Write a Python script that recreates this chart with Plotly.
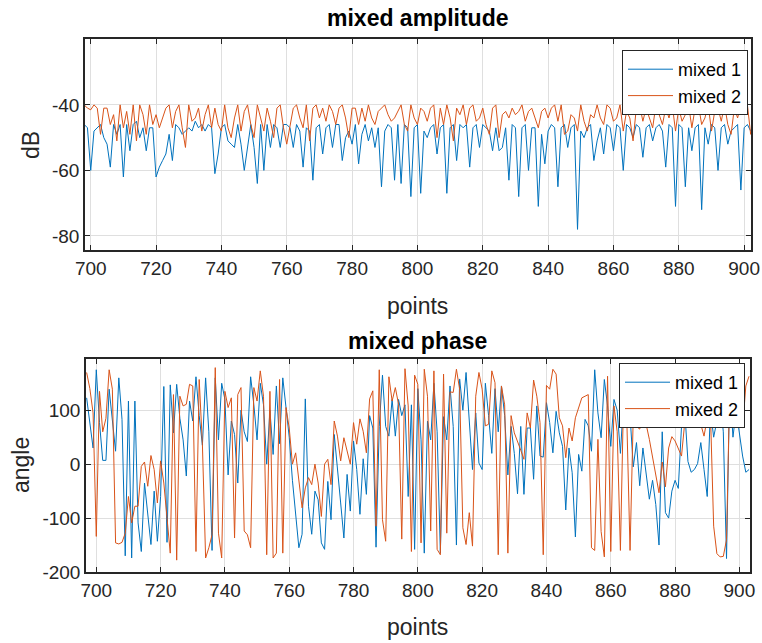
import plotly.graph_objects as go

points = list(range(697, 904))

amp_mixed1 = [
    -46, -46, -47, -60, -48, -47, -46, -50, -52, -59, -46, -49, -46, -62, -46, -54, -46, -45, -50, -47,
    -54, -47, -47, -62, -59, -57, -55, -49, -57, -46, -47, -49, -48, -47, -48, -45, -47, -46, -48, -46,
    -47, -61, -55, -47, -46, -51, -52, -53, -46, -52, -60, -53, -46, -53, -64, -46, -60, -46, -53, -46,
    -47, -53, -46, -46, -47, -53, -46, -48, -59, -47, -48, -63, -47, -46, -55, -47, -46, -53, -46, -46,
    -57, -50, -48, -52, -46, -58, -49, -46, -51, -47, -53, -47, -65, -48, -46, -47, -63, -46, -64, -46,
    -47, -68, -47, -46, -67, -48, -50, -47, -46, -55, -47, -46, -67, -47, -46, -57, -46, -47, -46, -59,
    -47, -46, -53, -46, -47, -48, -54, -47, -54, -53, -47, -63, -46, -47, -68, -47, -46, -60, -47, -47,
    -71, -49, -58, -48, -46, -47, -65, -47, -46, -53, -47, -46, -78, -48, -50, -47, -46, -57, -51, -47,
    -55, -46, -47, -54, -46, -47, -60, -46, -47, -50, -46, -47, -56, -47, -46, -51, -47, -46, -48, -59,
    -46, -47, -71, -46, -47, -65, -47, -54, -47, -46, -72, -47, -52, -46, -47, -60, -47, -46, -52, -48,
    -47, -46, -66, -47, -46, -48, -47,
]

amp_mixed2 = [
    -41, -40, -41, -41.5, -40, -41, -49, -41, -41, -46, -43, -51, -40, -47, -42, -49, -40, -51, -40, -43,
    -49, -40, -46, -43, -47, -44, -41, -40, -47, -42, -40, -47, -53, -40, -45, -44, -41, -48, -43, -40,
    -47, -41, -46, -48, -40, -47, -50, -44, -40, -48, -42, -40, -46, -50, -40, -44, -48, -41, -45, -50,
    -41, -40, -47, -52, -46, -41, -40, -44, -47, -40, -51, -41, -40, -44, -41, -45, -40, -42, -46, -41,
    -40, -44, -50, -41, -41, -46, -41, -45, -40, -44, -46, -42, -41, -40, -43, -45, -44, -42, -40, -46,
    -48, -40, -44, -46, -41, -42, -45, -41, -40, -50, -41, -46, -40, -44, -51, -41, -43, -40, -46, -41,
    -40, -45, -44, -41, -46, -49, -41, -40, -50, -43, -42, -44, -41, -43, -42, -40, -45, -42, -41, -44,
    -47, -42, -41, -44, -41, -40, -45, -40, -49, -48, -43, -44, -48, -40, -45, -48, -43, -44, -40, -44,
    -46, -40, -41, -45, -44, -40, -48, -42, -44, -51, -41, -40, -45, -41, -44, -47, -40, -43, -46, -41,
    -44, -40, -48, -41, -45, -43, -40, -47, -41, -40, -46, -44, -40, -48, -42, -41, -45, -40, -46, -49,
    -41, -44, -40, -41, -40, -49, -44,
]

phase_mixed1 = [
    123, 77, 30, 175, 77, 7, 7, 139, 77, 24, 160, 83, -170, 117, -174, 117, -109, -162, -35, -90,
    -149, -50, -143, -60, 144, -145, 147, 58, 148, 85, 45, -22, 117, 80, 162, 90, 35, 160, 60, -160,
    160, 45, 150, 120, -20, 80, 55, -35, 100, 60, 42, 162, 110, 45, 150, 110, 0, 100, 18, 145,
    38, 160, 100, 50, -30, -95, -155, -130, 121, -78, -130, -50, -66, -146, -158, -32, -103, 55, -4, -72,
    -137, -19, -87, 43, -10, -93, 10, -56, 90, 67, -154, 70, 165, 70, 52, 120, 52, 120, 90, 110,
    -60, 110, -158, 140, 45, -165, 80, 45, 150, 60, -165, 88, 45, 145, 70, -150, 158, 100, 170, 80,
    -10, 95, 2, -10, 150, 90, 20, 140, 60, 145, 90, -20, 70, 20, -55, 70, -56, 67, 67, -28,
    108, 15, 13, 114, 77, 21, 98, 58, 33, -85, 30, -16, -135, 18, -13, 83, 71, 24, 175, 95,
    49, 157, 108, 33, 120, 100, 20, 120, 75, 90, -5, 40, -40, 30, -20, -65, -30, -75, -150, 60,
    -90, -100, -50, -30, -45, 70, 100, 5, -15, -10, 1, 40, -10, -60, 100, 50, 80, 120, 60, -175,
    150, 50, 100, 60, 15, -15, -10,
]

phase_mixed2 = [
    170, 140, 95, -134, 135, 60, 85, 175, 139, -146, -148, -145, -128, -60, -109, -78, -78, -4, 4, -41,
    16, -10, -72, 6, -35, -103, -165, 129, -178, 126, 108, 111, 148, 145, -162, 157, 37, -174, -155, -131,
    179, -128, -174, 135, 105, 123, -137, 129, 142, -124, -131, -155, 142, 117, 173, 126, -168, 135, -174, -165,
    157, -165, 105, 67, 0, 21, -35, -81, -44, -25, -38, 0, -35, -97, 0, 9, -38, 80, 52, 6,
    49, 24, 0, 77, 37, 84, 61, 21, 121, 136, -115, 175, -103, -143, 162, 117, 142, 111, -139, 177,
    108, -162, 165, 148, -146, 176, 126, -124, 173, -158, -168, 167, -128, 134, 133, 176, 139, -118, -149, -90,
    -152, 126, 170, 139, 71, 74, 173, 151, -168, 145, 110, -165, 90, 58, 43, 26, 9, 95, 67, 156,
    126, 77, -168, 146, 139, 176, 167, 86, 71, 12, 67, 43, 86, 105, 123, 126, 129, -155, -160, 46,
    -125, -172, 163, -162, 108, 60, -160, 130, 80, -160, 90, 70, 65, 85, 74, 46, 15, -20, -53, 4,
    -42, 30, 51, 43, 30, 15, 77, 85, 110, 71, 80, 74, 52, 85, 95, -115, -166, -172, -171, -140,
    145, 77, 80, 77, 67, 145, 163,
]

x_ticks = [700, 720, 740, 760, 780, 800, 820, 840, 860, 880, 900]
amp_ticks = [-80, -60, -40]
phase_ticks = [-200, -100, 0, 100]

BLUE = "#0072BD"
ORANGE = "#D95319"
AXC = "#262626"
GRID = "#dfdfdf"
FONT = "Liberation Sans, Arial, sans-serif"

fig = go.Figure()
fig.add_trace(go.Scatter(x=points, y=amp_mixed1, mode="lines", name="mixed 1",
                         line=dict(color=BLUE, width=1), xaxis="x", yaxis="y", legend="legend"))
fig.add_trace(go.Scatter(x=points, y=amp_mixed2, mode="lines", name="mixed 2",
                         line=dict(color=ORANGE, width=1), xaxis="x", yaxis="y", legend="legend"))
fig.add_trace(go.Scatter(x=points, y=phase_mixed1, mode="lines", name="mixed 1",
                         line=dict(color=BLUE, width=1), xaxis="x2", yaxis="y2", legend="legend2"))
fig.add_trace(go.Scatter(x=points, y=phase_mixed2, mode="lines", name="mixed 2",
                         line=dict(color=ORANGE, width=1), xaxis="x2", yaxis="y2", legend="legend2"))

W, H = 762, 643

def fx(px):
    return px / W

def fy(py):
    return 1 - py / H

def labels(vals):
    return [str(v) for v in vals]

axis_common = dict(showline=True, linecolor=AXC, linewidth=1.5, mirror="ticks",
                   ticks="inside", ticklen=5, tickcolor=AXC, tickwidth=1.3,
                   showgrid=True, gridcolor=GRID, gridwidth=1, zeroline=False,
                   automargin=False, ticklabeloverflow="allow",
                   tickfont=dict(family=FONT, size=19, color=AXC))

fig.update_layout(
    template="none",
    width=W, height=H,
    margin=dict(l=0, r=0, t=0, b=0, pad=0),
    paper_bgcolor="white", plot_bgcolor="white",
    showlegend=True,
    xaxis=dict(domain=[fx(85), fx(751)], range=[698.25, 902.1], anchor="y",
               tickvals=x_ticks, ticktext=labels(x_ticks), **axis_common),
    yaxis=dict(domain=[fy(250), fy(39)], range=[-84.3, -19.9], anchor="x",
               tickvals=amp_ticks, ticktext=labels(amp_ticks), **axis_common),
    xaxis2=dict(domain=[fx(86), fx(750)], range=[696.8, 903.3], anchor="y2",
                tickvals=x_ticks, ticktext=labels(x_ticks), **axis_common),
    yaxis2=dict(domain=[fy(572), fy(359)], range=[-200, 195], anchor="x2",
                tickvals=phase_ticks, ticktext=labels(phase_ticks), **axis_common),
    legend=dict(x=fx(748), y=fy(50), xanchor="right", yanchor="top",
                bgcolor="white", bordercolor=AXC, borderwidth=1, itemwidth=45,
                font=dict(family=FONT, size=18, color="black"), tracegroupgap=0),
    legend2=dict(x=fx(745), y=fy(363), xanchor="right", yanchor="top",
                 bgcolor="white", bordercolor=AXC, borderwidth=1, itemwidth=45,
                 font=dict(family=FONT, size=18, color="black"), tracegroupgap=0),
    annotations=[
        dict(text="<b>mixed amplitude</b>", x=fx(418), y=fy(18), xref="paper", yref="paper",
             xanchor="center", yanchor="middle",
             showarrow=False, font=dict(family=FONT, size=23, color="black")),
        dict(text="<b>mixed phase</b>", x=fx(418), y=fy(341), xref="paper", yref="paper",
             xanchor="center", yanchor="middle",
             showarrow=False, font=dict(family=FONT, size=23, color="black")),
        dict(text="points", x=fx(418), y=fy(306), xref="paper", yref="paper",
             xanchor="center", yanchor="middle",
             showarrow=False, font=dict(family=FONT, size=23, color=AXC)),
        dict(text="points", x=fx(418), y=fy(627), xref="paper", yref="paper",
             xanchor="center", yanchor="middle",
             showarrow=False, font=dict(family=FONT, size=23, color=AXC)),
        dict(text="dB", x=fx(31), y=fy(145), xref="paper", yref="paper", textangle=-90,
             xanchor="center", yanchor="middle",
             showarrow=False, font=dict(family=FONT, size=23, color=AXC)),
        dict(text="angle", x=fx(21), y=fy(465), xref="paper", yref="paper", textangle=-90,
             xanchor="center", yanchor="middle",
             showarrow=False, font=dict(family=FONT, size=23, color=AXC)),
    ],
)

fig.write_html("out.html", config={"displayModeBar": False},
               post_script="document.body.style.margin='0';")
